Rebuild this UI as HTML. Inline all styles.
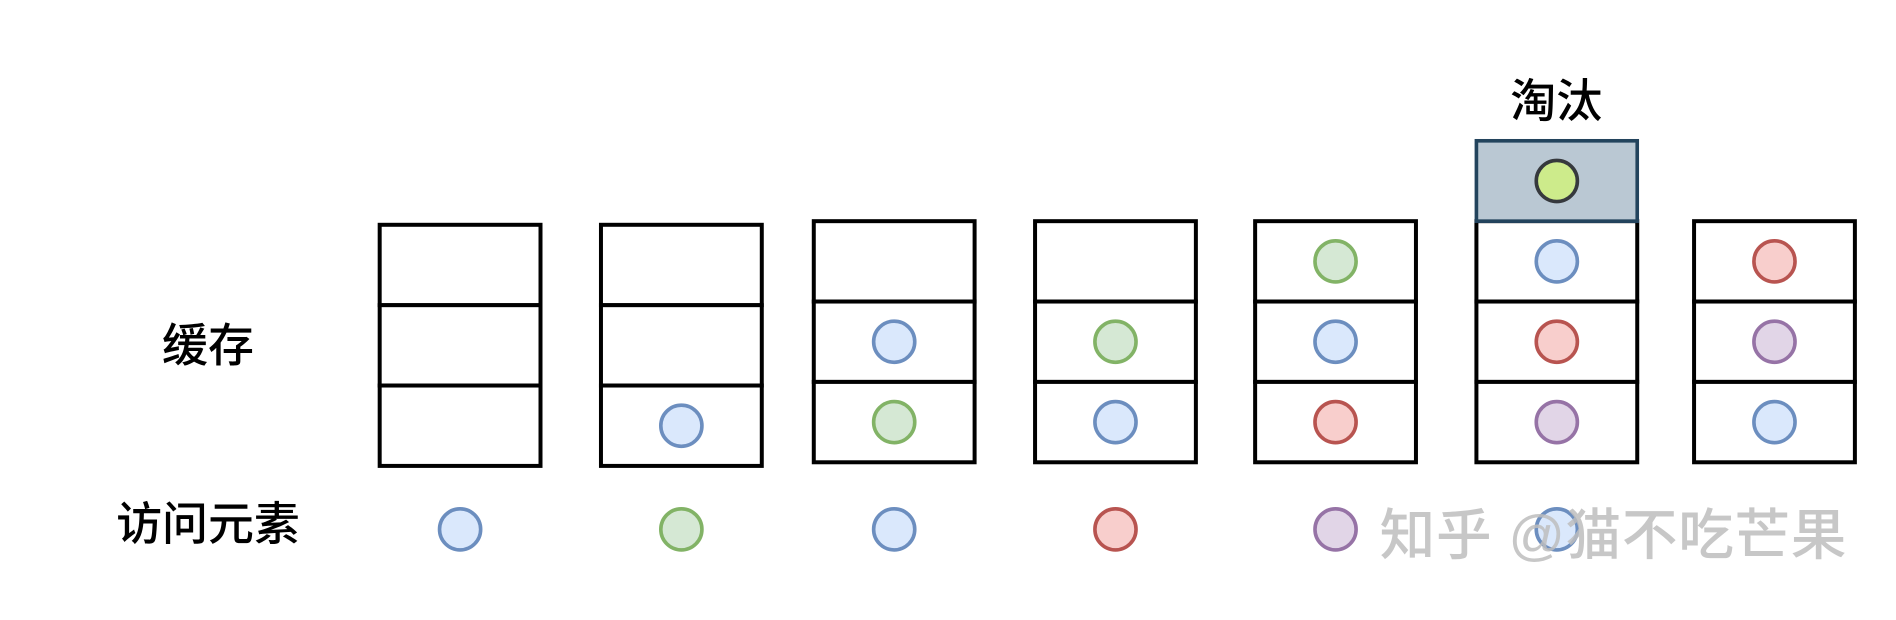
<!DOCTYPE html>
<html><head><meta charset="utf-8"><style>
html,body{margin:0;padding:0;background:#fff;width:1896px;height:620px;overflow:hidden}
svg{display:block}
text{font-family:"Liberation Sans","Noto Sans CJK SC",sans-serif}
</style></head><body>
<svg id="c" width="1896" height="620" viewBox="0 0 1568 513" preserveAspectRatio="none" xmlns="http://www.w3.org/2000/svg">
<text x="172" y="299" font-size="38" font-weight="500" text-anchor="middle">缓存</text>
<text x="172" y="447" font-size="38" font-weight="500" text-anchor="middle">访问元素</text>
<text x="1287" y="97" font-size="38" font-weight="500" text-anchor="middle">淘汰</text>
</svg>
<script>
const colX=[314,497,673,856,1038,1221,1401];
const colTop=[186,186,183,183,183,183,183];
const cache=[["","",""],["","","B"],["","B","G"],["","G","B"],["G","B","R"],["B","R","P"],["R","P","B"]];
const access=["B","G","B","R","P","B",""];
const evicted=[null,null,null,null,null,"E",null];
const colors={B:["#dae8fc","#6c8ebf"],G:["#d5e8d4","#82b366"],R:["#f8cecc","#b85450"],P:["#e1d5e7","#9673a6"],E:["#cdeb8b","#36393d"]};
const W=133,H=66.5,R=17;
const svg=document.getElementById('c');
const NS='http://www.w3.org/2000/svg';
function mk(t,a){const e=document.createElementNS(NS,t);for(const k in a)e.setAttribute(k,a[k]);svg.appendChild(e);return e;}
function circ(cx,cy,k){return mk('circle',{cx:cx,cy:cy,r:R,fill:colors[k][0],stroke:colors[k][1],'stroke-width':3});}
colX.forEach((x,i)=>{
  const t=colTop[i];
  for(let r=0;r<3;r++){
    const rc=mk('rect',{x:x,y:t+r*H,width:W,height:H,fill:'#fff',stroke:'#000','stroke-width':3.3});
    
    
    const k=cache[i][r];
    if(k){const c=circ(x+W/2,t+r*H+H/2,k);
      
      }
  }
  if(evicted[i]){
    const eb=mk('rect',{x:x,y:t-H,width:W,height:H,fill:'#bac8d3',stroke:'#23445d','stroke-width':3});
    
    
    const c=circ(x+W/2,t-H/2,evicted[i]);
    
    
  }
  if(access[i]){
    const c=circ(x+W/2,438,access[i]);
    
    
  }
});
const wm=mk('text',{x:1141,y:459,'font-size':46,'font-weight':'500',fill:'#bdbdbd','fill-opacity':0.85,textLength:386});
wm.textContent='知乎 @猫不吃芒果';


</script>
</body></html>
